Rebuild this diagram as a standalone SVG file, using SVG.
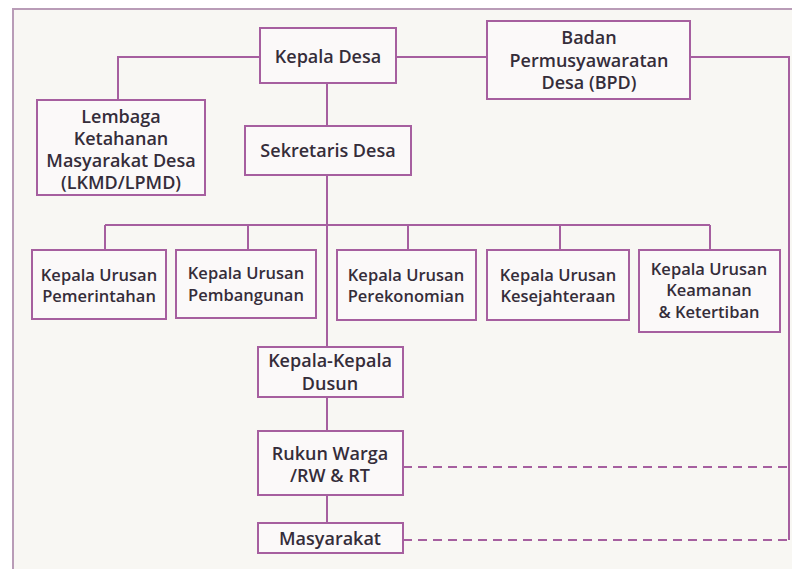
<svg xmlns="http://www.w3.org/2000/svg" width="792" height="569" viewBox="0 0 792 569">
  <style>
    .box { fill: #fbf9f9; stroke: #a65f9f; stroke-width: 2; }
    .lbl { font-family: "Open Sans", "Liberation Sans", sans-serif; font-weight: 600; font-size: 18px; fill: #352d3a; text-anchor: middle; }
    .sm { font-size: 16.5px; }
    .wire { fill: none; stroke: #a65f9f; stroke-width: 2; }
    .dash { fill: none; stroke: #a65f9f; stroke-width: 2; stroke-dasharray: 9 6; }
  </style>

  <!-- page background and frame -->
  <rect x="0" y="0" width="792" height="569" fill="#ffffff"/>
  <rect x="13" y="9" width="800" height="580" fill="#f8f7f3" stroke="#b99cb7" stroke-width="2"/>

  <!-- connectors -->
  <g id="connectors">
    <path class="wire" d="M260,57 H118 V100"/>
    <path class="wire" d="M396,57 H487"/>
    <path class="wire" d="M690,57 H789 V540"/>
    <path class="wire" d="M327,83 V523"/>
    <path class="wire" d="M105,225 H710"/>
    <path class="wire" d="M105,225 V250 M248,225 V250 M408,225 V250 M560,225 V250 M710,225 V250"/>
    <path class="dash" d="M403,467 H789"/>
    <path class="dash" d="M403,540 H789"/>
  </g>

  <g id="kepala-desa">
    <rect class="box" x="260" y="28" width="136" height="55"/>
    <text class="lbl" x="328" y="63">Kepala Desa</text>
  </g>

  <g id="bpd">
    <rect class="box" x="487" y="21" width="203" height="78"/>
    <text class="lbl" x="589" y="44">Badan</text>
    <text class="lbl" x="589" y="67">Permusyawaratan</text>
    <text class="lbl" x="589" y="89">Desa (BPD)</text>
  </g>

  <g id="lkmd">
    <rect class="box" x="37" y="100" width="168" height="95"/>
    <text class="lbl" x="121" y="123">Lembaga</text>
    <text class="lbl" x="121" y="145">Ketahanan</text>
    <text class="lbl" x="121" y="167">Masyarakat Desa</text>
    <text class="lbl" x="121" y="189">(LKMD/LPMD)</text>
  </g>

  <g id="sekretaris-desa">
    <rect class="box" x="245" y="126" width="166" height="49"/>
    <text class="lbl" x="328" y="157">Sekretaris Desa</text>
  </g>

  <g id="kaur-pemerintahan">
    <rect class="box" x="32" y="250" width="134" height="69"/>
    <text class="lbl sm" x="99" y="281">Kepala Urusan</text>
    <text class="lbl sm" x="99" y="302">Pemerintahan</text>
  </g>

  <g id="kaur-pembangunan">
    <rect class="box" x="176" y="250" width="140" height="68"/>
    <text class="lbl sm" x="246" y="279">Kepala Urusan</text>
    <text class="lbl sm" x="246" y="301">Pembangunan</text>
  </g>

  <g id="kaur-perekonomian">
    <rect class="box" x="337" y="250" width="139" height="70"/>
    <text class="lbl sm" x="406" y="281">Kepala Urusan</text>
    <text class="lbl sm" x="406" y="302">Perekonomian</text>
  </g>

  <g id="kaur-kesejahteraan">
    <rect class="box" x="487" y="250" width="142" height="70"/>
    <text class="lbl sm" x="558" y="281">Kepala Urusan</text>
    <text class="lbl sm" x="558" y="302">Kesejahteraan</text>
  </g>

  <g id="kaur-keamanan">
    <rect class="box" x="639" y="250" width="141" height="82"/>
    <text class="lbl sm" x="709" y="275">Kepala Urusan</text>
    <text class="lbl sm" x="709" y="296">Keamanan</text>
    <text class="lbl sm" x="709" y="318">&amp; Ketertiban</text>
  </g>

  <g id="kepala-dusun">
    <rect class="box" x="258" y="347" width="145" height="50"/>
    <text class="lbl" x="330" y="367">Kepala-Kepala</text>
    <text class="lbl" x="330" y="390">Dusun</text>
  </g>

  <g id="rw-rt">
    <rect class="box" x="258" y="431" width="145" height="64"/>
    <text class="lbl" x="330" y="460">Rukun Warga</text>
    <text class="lbl" x="330" y="482">/RW &amp; RT</text>
  </g>

  <g id="masyarakat">
    <rect class="box" x="258" y="523" width="145" height="30"/>
    <text class="lbl" x="330" y="545">Masyarakat</text>
  </g>
</svg>
